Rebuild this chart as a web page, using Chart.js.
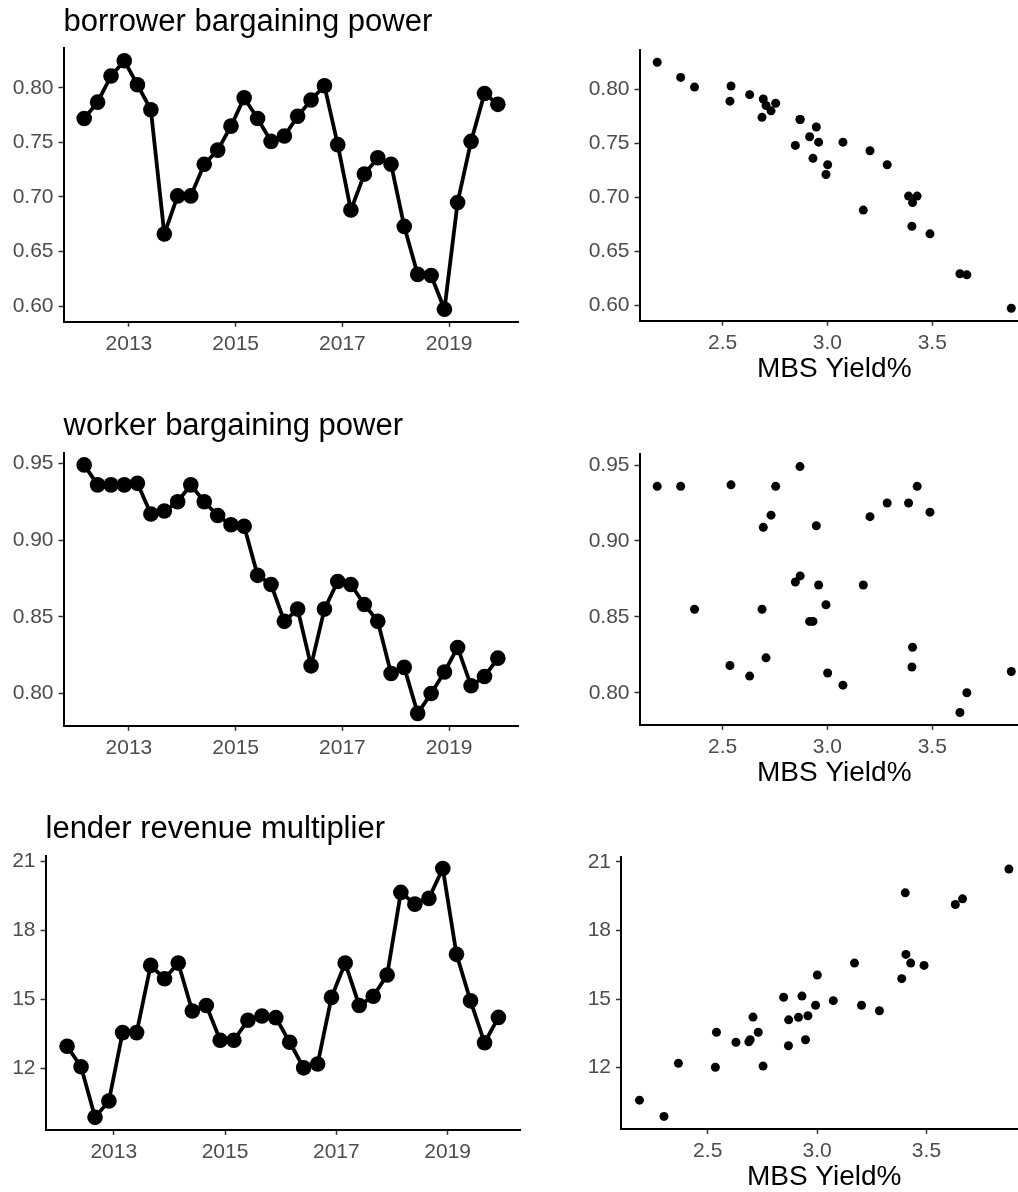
<!DOCTYPE html>
<html>
<head>
<meta charset="utf-8">
<title>Bargaining power and lender revenue vs MBS yield</title>
<script src="https://cdn.jsdelivr.net/npm/chart.js@4.4.0/dist/chart.umd.min.js"></script>
<style>
  html, body { margin: 0; padding: 0; background: #ffffff; }
  #figure { position: relative; width: 1018px; height: 1192px; overflow: hidden; background: #ffffff; }
  #figure canvas { position: absolute; }
</style>
</head>
<body>
<div id="figure">
  <canvas id="borrowerTime"></canvas>
  <canvas id="borrowerMbs"></canvas>
  <canvas id="workerTime"></canvas>
  <canvas id="workerMbs"></canvas>
  <canvas id="lenderTime"></canvas>
  <canvas id="lenderMbs"></canvas>
</div>
<script>
'use strict';

// ── Data ──────────────────────────────────────────────────────

// observation dates, one per quarter
const quarters = [
  '2012-02-29', '2012-05-31', '2012-08-31', '2012-11-30',
  '2013-02-28', '2013-05-31', '2013-08-31', '2013-11-30',
  '2014-02-28', '2014-05-31', '2014-08-31', '2014-11-30',
  '2015-02-28', '2015-05-31', '2015-08-31', '2015-11-30',
  '2016-02-29', '2016-05-31', '2016-08-31', '2016-11-30',
  '2017-02-28', '2017-05-31', '2017-08-31', '2017-11-30',
  '2018-02-28', '2018-05-31', '2018-08-31', '2018-11-30',
  '2019-02-28', '2019-05-31', '2019-08-31', '2019-11-30',
];

const mbsYield = [
  2.869, 2.753, 2.300, 2.188, 2.540, 2.731, 3.489, 3.387,
  3.428, 3.285, 3.203, 2.947, 2.694, 2.870, 2.958, 2.915,
  2.688, 2.535, 2.366, 2.847, 3.171, 2.993, 2.931, 3.001,
  3.403, 3.632, 3.665, 3.877, 3.406, 3.074, 2.629, 2.707,
];

const borrowerPower = [
  0.772, 0.787, 0.811, 0.825, 0.803, 0.780, 0.666, 0.701,
  0.701, 0.730, 0.743, 0.765, 0.791, 0.772, 0.751, 0.756,
  0.774, 0.789, 0.802, 0.748, 0.688, 0.721, 0.736, 0.730,
  0.673, 0.629, 0.628, 0.597, 0.695, 0.751, 0.795, 0.785,
];

const workerPower = [
  0.949, 0.936, 0.936, 0.936, 0.937, 0.917, 0.919, 0.925,
  0.936, 0.925, 0.916, 0.910, 0.909, 0.877, 0.871, 0.847,
  0.855, 0.818, 0.855, 0.873, 0.871, 0.858, 0.847, 0.813,
  0.817, 0.787, 0.800, 0.814, 0.830, 0.805, 0.811, 0.823,
];

const lenderMultiplier = [
  12.96, 12.07, 9.87, 10.58, 13.55, 13.55, 16.47, 15.89,
  16.57, 14.49, 14.73, 13.22, 13.22, 14.09, 14.27, 14.20,
  13.13, 12.02, 12.19, 15.08, 16.57, 14.73, 15.13, 16.05,
  19.64, 19.13, 19.38, 20.68, 16.95, 14.93, 13.11, 14.21,
];

const yearTicks     = [2013, 2015, 2017, 2019];
const mbsTicks      = [2.5, 3.0, 3.5];
const borrowerTicks = [0.60, 0.65, 0.70, 0.75, 0.80];
const workerTicks   = [0.80, 0.85, 0.90, 0.95];
const lenderTicks   = [12, 15, 18, 21];

// ── Styling ───────────────────────────────────────────────────

const FONT        = '"Liberation Sans", Arial, Helvetica, sans-serif';
const TICK_GREY   = '#4D4D4D';
const TITLE_SIZE  = 31;
const TICK_SIZE   = 21;
const XTITLE_SIZE = 28;
const LINE_HEIGHT = 1.2;

// ── Helpers ───────────────────────────────────────────────────

function decimalYear(iso) {
  const d = new Date(iso + 'T00:00:00Z');
  const y = d.getUTCFullYear();
  const start = Date.UTC(y, 0, 1);
  const end   = Date.UTC(y + 1, 0, 1);
  return y + (d.getTime() - start) / (end - start);
}

// same 5% padding ggplot puts on continuous scales
function expandRange(values) {
  const lo = Math.min(...values);
  const hi = Math.max(...values);
  const pad = (hi - lo) * 0.05;
  return { min: lo - pad, max: hi + pad };
}

function axis(range, tickValues, fmt, size, extra) {
  return Object.assign({
    type: 'linear',
    min: range.min,
    max: range.max,
    afterBuildTicks: s => { s.ticks = tickValues.map(v => ({ value: v })); },
    afterFit: s => {
      if (s.isHorizontal()) s.height = size;
      else s.width = size;
    },
    ticks: {
      color: TICK_GREY,
      font: { family: FONT, size: TICK_SIZE },
      padding: 5,
      autoSkip: false,
      maxRotation: 0,
      callback: v => fmt(v),
    },
    grid: {
      display: true,
      drawOnChartArea: false,
      drawTicks: true,
      tickLength: 5,
      tickColor: '#333333',
      tickWidth: 1.5,
    },
    border: { display: true, color: '#000000', width: 2 },
  }, extra || {});
}

/**
 * box  : canvas rectangle on the page
 * area : wanted plot area (page coords)
 */
function panel(id, box, area, opts) {
  const canvas = document.getElementById(id);
  canvas.width  = box.w;
  canvas.height = box.h;
  canvas.style.left   = box.x + 'px';
  canvas.style.top    = box.y + 'px';
  canvas.style.width  = box.w + 'px';
  canvas.style.height = box.h + 'px';

  const yWidth  = area.l - box.x;
  const xHeight = box.y + box.h - area.b;

  const plugins = {
    legend:  { display: false },
    tooltip: { enabled: false },
    title:   { display: false },
  };

  let padTop = area.t - box.y;
  if (opts.title) {
    // title baseline sits ~19px above the plot area
    const lh = TITLE_SIZE * LINE_HEIGHT;
    const middle = area.t - 19 - 0.3465 * TITLE_SIZE + 3.5;
    const tTop = middle - box.y - lh / 2;
    plugins.title = {
      display: true,
      text: opts.title,
      align: 'start',
      fullSize: false,
      color: '#000000',
      font: { family: FONT, size: TITLE_SIZE, weight: 'normal', lineHeight: LINE_HEIGHT },
      padding: { top: tTop, bottom: area.t - box.y - tTop - lh },
    };
    padTop = 0;
  }

  let xExtra;
  if (opts.xTitle) {
    const lh = XTITLE_SIZE * LINE_HEIGHT;
    const middle = area.b + 48.5;
    xExtra = {
      title: {
        display: true,
        text: opts.xTitle,
        color: '#000000',
        font: { family: FONT, size: XTITLE_SIZE, lineHeight: LINE_HEIGHT },
        padding: { top: 0, bottom: box.y + box.h - middle - lh / 2 },
      },
    };
  }

  return new Chart(canvas, {
    type: opts.type,
    data: { datasets: [opts.dataset] },
    options: {
      responsive: false,
      animation: false,
      devicePixelRatio: 1,
      events: [],
      layout: {
        padding: { left: 0, top: padTop, right: box.x + box.w - area.r, bottom: 0 },
      },
      plugins,
      scales: {
        x: axis(opts.xRange, opts.xTicks, opts.xFmt, xHeight, xExtra),
        y: axis(opts.yRange, opts.yTicks, opts.yFmt, yWidth),
      },
    },
  });
}

function lineSeries(values) {
  return {
    data: quarters.map((q, i) => ({ x: decimalYear(q), y: values[i] })),
    borderColor: '#000000',
    borderWidth: 3.8,
    pointRadius: 7.8,
    pointBackgroundColor: '#000000',
    pointBorderWidth: 0,
    tension: 0,
    clip: false,
  };
}

function scatterSeries(values) {
  return {
    data: mbsYield.map((m, i) => ({ x: m, y: values[i] })),
    pointRadius: 4.5,
    pointBackgroundColor: '#000000',
    pointBorderWidth: 0,
    clip: false,
  };
}

// ── Panels ────────────────────────────────────────────────────

const yearRange = expandRange(quarters.map(decimalYear));
const mbsRange  = expandRange(mbsYield);
const fmtYear = v => String(v);
const fmt2    = v => v.toFixed(2);
const fmt1    = v => v.toFixed(1);
const fmt0    = v => v.toFixed(0);

const rows = [
  { id: 'borrower', title: 'borrower bargaining power', values: borrowerPower,    ticks: borrowerTicks, fmt: fmt2,
    left:  { box: { x: 0,   y: 0,   w: 530, h: 390 }, area: { l: 63.5,  t: 48.3,  r: 518.5,  b: 321.7 } },
    right: { box: { x: 560, y: 0,   w: 480, h: 390 }, area: { l: 639.5, t: 50,    r: 1029,   b: 320.6 } } },
  { id: 'worker',   title: 'worker bargaining power',   values: workerPower,      ticks: workerTicks,   fmt: fmt2,
    left:  { box: { x: 0,   y: 400, w: 530, h: 390 }, area: { l: 63.5,  t: 452.5, r: 518.5,  b: 725.8 } },
    right: { box: { x: 560, y: 400, w: 480, h: 390 }, area: { l: 639.5, t: 454.3, r: 1029,   b: 724.8 } } },
  { id: 'lender',   title: 'lender revenue multiplier', values: lenderMultiplier, ticks: lenderTicks,   fmt: fmt0,
    left:  { box: { x: 0,   y: 800, w: 530, h: 392 }, area: { l: 45.5,  t: 856,   r: 520,    b: 1129.8 } },
    right: { box: { x: 560, y: 800, w: 480, h: 400 }, area: { l: 621,   t: 856.7, r: 1027.4, b: 1128.8 } } },
];

rows.forEach(row => {
  const yRange = expandRange(row.values);

  panel(row.id + 'Time', row.left.box, row.left.area, {
    type: 'line',
    title: row.title,
    dataset: lineSeries(row.values),
    xRange: yearRange, xTicks: yearTicks, xFmt: fmtYear,
    yRange, yTicks: row.ticks, yFmt: row.fmt,
  });

  panel(row.id + 'Mbs', row.right.box, row.right.area, {
    type: 'scatter',
    xTitle: 'MBS Yield%',
    dataset: scatterSeries(row.values),
    xRange: mbsRange, xTicks: mbsTicks, xFmt: fmt1,
    yRange, yTicks: row.ticks, yFmt: row.fmt,
  });
});
</script>
</body>
</html>
